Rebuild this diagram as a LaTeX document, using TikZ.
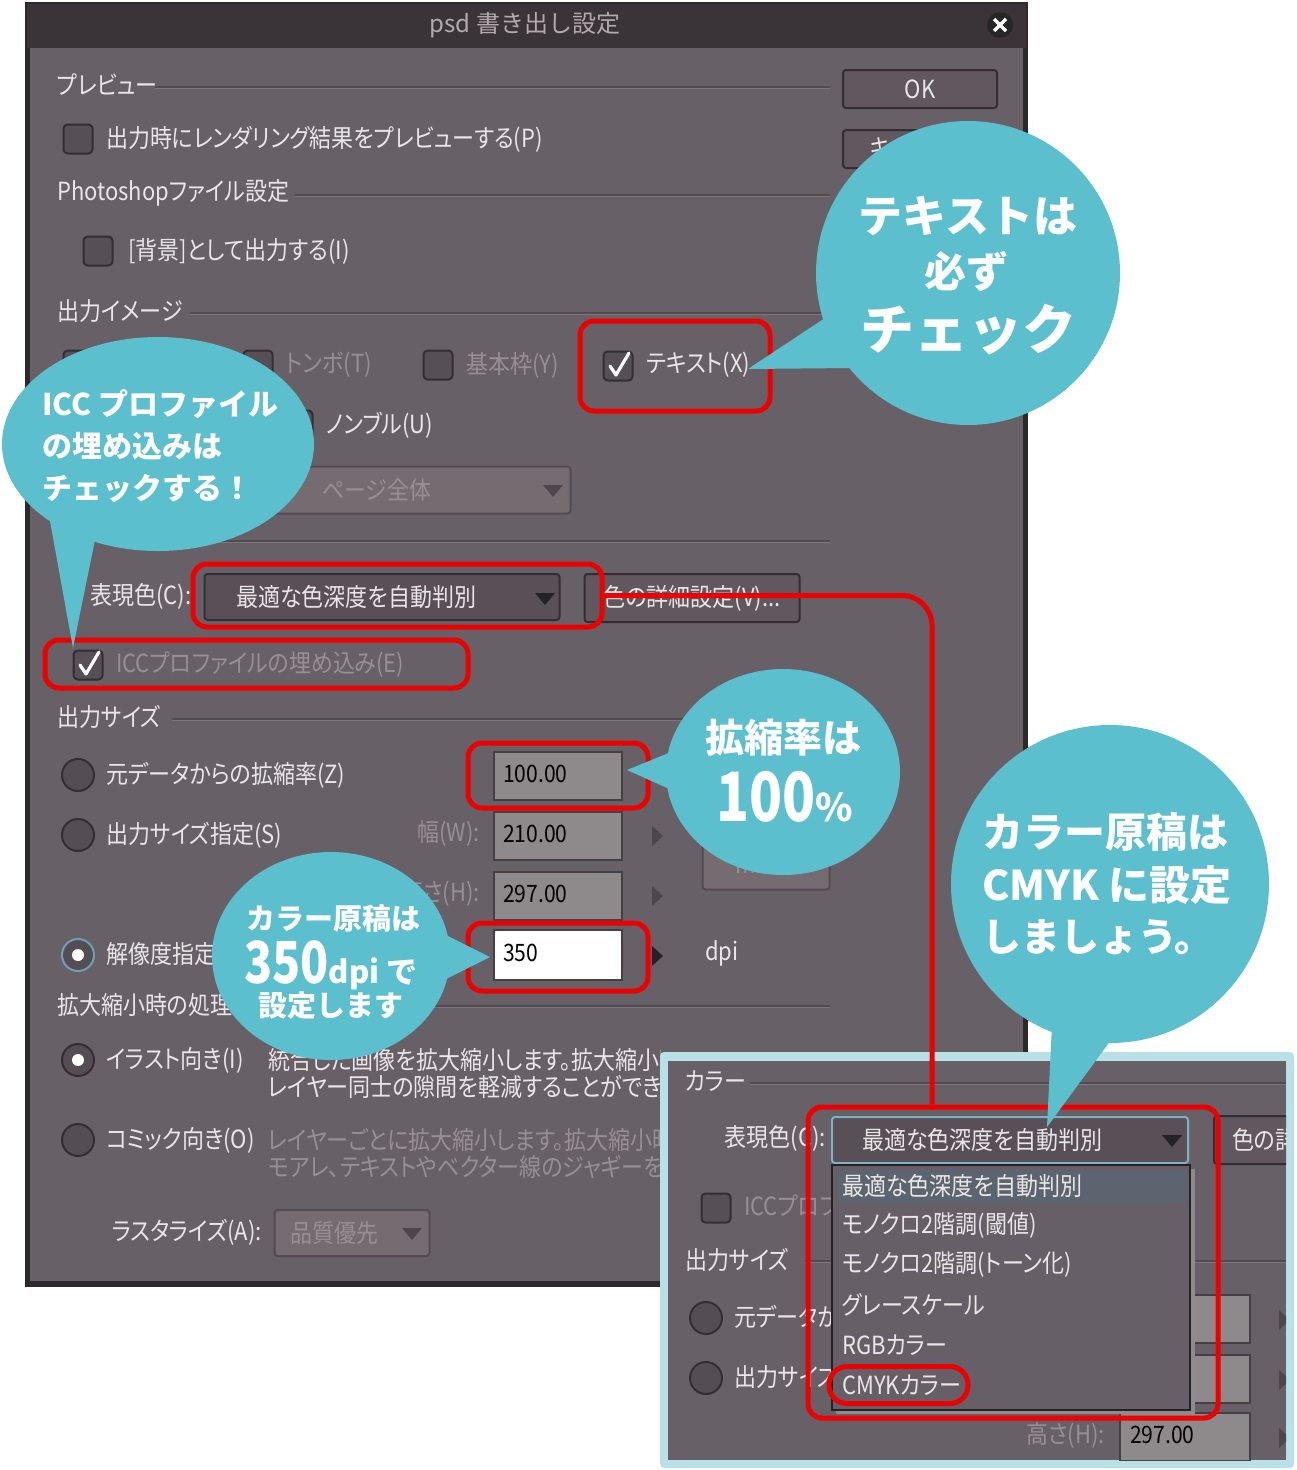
\documentclass[tikz,border=0pt]{standalone}
\usepackage{fontspec}
\newfontfamily\uif{Noto Sans CJK JP}[RawFeature=+palt, FakeStretch=0.88]
\newfontfamily\jpf{Noto Sans CJK JP}
\newfontfamily\jpfn{Noto Sans CJK JP}[FakeStretch=0.8]
\usetikzlibrary{shapes.geometric}
\definecolor{dlgbody}{RGB}{104,96,103}
\definecolor{dlgedge}{RGB}{45,40,43}
\definecolor{titlebar}{RGB}{58,51,55}
\definecolor{titletext}{RGB}{178,170,175}
\definecolor{uitext}{RGB}{234,230,232}
\definecolor{uidis}{RGB}{152,143,149}
\definecolor{sepdark}{RGB}{82,75,80}
\definecolor{seplight}{RGB}{126,118,124}
\definecolor{ckfill}{RGB}{86,79,85}
\definecolor{ckedge}{RGB}{52,46,50}
\definecolor{radiofill}{RGB}{84,77,83}
\definecolor{selring}{RGB}{110,160,178}
\definecolor{fieldgray}{RGB}{142,138,140}
\definecolor{fieldedge}{RGB}{70,64,68}
\definecolor{ddfill}{RGB}{88,80,86}
\definecolor{dddisfill}{RGB}{116,108,113}
\definecolor{ddedgedis}{RGB}{82,75,80}
\definecolor{btnfill}{RGB}{96,88,94}
\definecolor{arrowdark}{RGB}{38,33,36}
\definecolor{arrowdis}{RGB}{78,70,76}
\definecolor{hlred}{RGB}{236,0,0}
\definecolor{bubteal}{RGB}{91,191,205}
\definecolor{insetblue}{RGB}{185,224,230}
\definecolor{listhl}{RGB}{92,100,112}
\definecolor{listfill}{RGB}{103,95,103}
\definecolor{focusblue}{RGB}{125,178,196}
\newcommand\mychk[1]{\draw[chkmark] ([shift={(-8,0)}]#1.center) -- ([shift={(-2,9)}]#1.center) -- ([shift={(11,-13)}]#1.center);}
\newcommand\mydown[3]{\fill[#3] (#1-10,#2-6) -- (#1+10,#2-6) -- (#1,#2+6) -- cycle;}
\newcommand\myright[3]{\fill[#3] (#1-5,#2-10) -- (#1-5,#2+10) -- (#1+6,#2) -- cycle;}
\newcommand\mysep[3]{\draw[draw=sepdark, line width=1.5pt] (#1,#3) -- (#2,#3); \draw[draw=seplight, line width=1.5pt] (#1,#3+1.5) -- (#2,#3+1.5);}
\tikzset{
 lbl/.style={anchor=west, inner sep=0pt, text=uitext, font=\uif\fontsize{25}{28}\selectfont},
 dis/.style={lbl, text=uidis},
 val/.style={anchor=west, inner sep=0pt, text=black, font=\uif\fontsize{24}{28}\selectfont},
 ckb/.style={draw=ckedge, fill=ckfill, line width=2pt, rounded corners=4pt, minimum size=29pt, inner sep=0pt},
 chkmark/.style={draw=white, line width=3.2pt, line cap=round, line join=round},
 radiob/.style={circle, draw=ckedge, fill=radiofill, line width=2pt, minimum size=32pt, inner sep=0pt},
 radiosel/.style={radiob, draw=selring},
 fieldbox/.style={draw=fieldedge, fill=fieldgray, line width=2pt, inner sep=0pt},
 ddbox/.style={draw=ckedge, fill=ddfill, line width=2pt, rounded corners=3pt, inner sep=0pt},
 dddisbox/.style={draw=ddedgedis, fill=dddisfill, line width=2pt, rounded corners=3pt, inner sep=0pt},
 btnbox/.style={draw=ckedge, fill=btnfill, line width=2pt, rounded corners=3pt, inner sep=0pt, text=uitext, font=\uif\fontsize{25}{28}\selectfont},
 redbox/.style={draw=hlred, line width=5pt, rounded corners=14pt, inner sep=0pt},
 redline/.style={draw=hlred, line width=5pt},
 bub/.style={ellipse, fill=bubteal, inner sep=0pt},
 btxt/.style={text=white, inner sep=0pt},
}
\begin{document}
\begin{tikzpicture}[x=1pt,y=-1pt]
\useasboundingbox (0,0) rectangle (1296,1470);
\fill[white] (0,0) rectangle (1296,1470);
% ---------- dialog frame ----------
\fill[dlgedge] (25,2) rectangle (1028,1287);
\fill[titlebar] (27,4) rectangle (1026,48);
\fill[dlgbody] (30,48) rectangle (1023,1281);
\node[inner sep=0pt, text=titletext, font=\jpf\fontsize{24}{28}\selectfont] (title) at (525,25) {psd 書き出し設定};
\node[circle, fill=black!85, minimum size=26pt, inner sep=0pt] (closeBtn) at (1000,25) {};
\draw[white, line width=3.5pt] ([shift={(-6,-6)}]closeBtn.center) -- ([shift={(6,6)}]closeBtn.center);
\draw[white, line width=3.5pt] ([shift={(-6,6)}]closeBtn.center) -- ([shift={(6,-6)}]closeBtn.center);
% ---------- preview ----------
\node[lbl] (hPrev) at (57,85) {プレビュー};
\mysep{155}{830}{87}
\node[btnbox, minimum width=154pt, minimum height=38pt] (okBtn) at (920,89) {OK};
\node[btnbox, minimum width=154pt, minimum height=38pt] (cancelBtn) at (920,149) {キャンセル};
\node[ckb] (cbPrev) at (78,139) {};
\node[lbl] (tPrev) at (106,139) {出力時にレンダリング結果をプレビューする(P)};
% ---------- photoshop ----------
\node[lbl] (hPsd) at (57,193) {Photoshopファイル設定};
\mysep{295}{830}{195}
\node[ckb] (cbBg) at (98,251) {};
\node[lbl] (tBg) at (128,251) {[背景]として出力する(I)};
% ---------- output image ----------
\node[lbl] (hOut) at (57,311) {出力イメージ};
\mysep{190}{830}{313}
\node[ckb] (cbA) at (78,365) {};
\node[ckb] (cbTombo) at (258,365) {};
\node[dis] (tTombo) at (286,365) {トンボ(T)};
\node[ckb] (cbKihon) at (438,365) {};
\node[dis] (tKihon) at (466,365) {基本枠(Y)};
\node[ckb] (cbText) at (618,366) {};
\mychk{cbText}
\node[lbl] (tText) at (646,365) {テキスト(X)};
\node[ckb] (cbNombre) at (298,425) {};
\node[lbl] (tNombre) at (326,425) {ノンブル(U)};
\node[dddisbox, minimum width=331pt, minimum height=47pt] (ddPage) at (405,490) {};
\node[dis] (tPage) at (322,490) {ページ全体};
\mydown{553}{491}{arrowdis}
% ---------- color ----------
\node[lbl] (hColor) at (57,541) {カラー};
\mysep{125}{830}{541}
\node[lbl] (tHyo) at (90,596) {表現色(C):};
\node[ddbox, minimum width=355pt, minimum height=46pt] (ddHyo) at (382,597) {};
\node[lbl] (tHyoV) at (236,597) {最適な色深度を自動判別};
\mydown{545}{599}{arrowdark}
\node[btnbox, minimum width=215pt, minimum height=48pt] (detailBtn) at (692,598) {色の詳細設定(V)...};
\node[ckb] (cbIcc) at (88,665) {};
\mychk{cbIcc}
\node[dis] (tIcc) at (116,665) {ICCプロファイルの埋め込み(E)};
% ---------- output size ----------
\node[lbl] (hSize) at (57,717) {出力サイズ};
\mysep{172}{830}{719}
\node[radiob] (rbScale) at (78,775) {};
\node[lbl] (tScale) at (106,775) {元データからの拡縮率(Z)};
\node[fieldbox, minimum width=128pt, minimum height=48pt] (fScale) at (558,776) {};
\node[val] (vScale) at (503,774) {100.00};
\node[radiob] (rbSize) at (78,835) {};
\node[lbl] (tSize) at (106,835) {出力サイズ指定(S)};
\node[dis, anchor=east] (tW) at (480,833) {幅(W):};
\node[fieldbox, minimum width=128pt, minimum height=48pt] (fW) at (558,836) {};
\node[val] (vW) at (503,834) {210.00};
\myright{657}{836}{arrowdis}
\node[dis, anchor=east] (tH) at (480,893) {高さ(H):};
\node[fieldbox, minimum width=128pt, minimum height=48pt] (fH) at (558,896) {};
\node[val] (vH) at (503,894) {297.00};
\myright{657}{896}{arrowdis}
\node[dddisbox, minimum width=127pt, minimum height=45pt] (ddUnit) at (766,867) {};
\node[dis] (tUnit) at (735,867) {mm};
\node[radiosel] (rbRes) at (78,955) {};
\fill[white] (rbRes.center) circle [radius=6pt];
\node[lbl] (tRes) at (106,955) {解像度指定(R):};
\node[fieldbox, fill=white, minimum width=128pt, minimum height=50pt] (fRes) at (558,955) {};
\node[val] (vRes) at (503,953) {350};
\myright{657}{956}{arrowdark}
\node[lbl] (tDpi) at (705,953) {dpi};
% ---------- scaling ----------
\node[lbl] (hScl) at (57,1005) {拡大縮小時の処理};
\mysep{245}{830}{1006}
\node[radiob] (rbIllust) at (78,1060) {};
\fill[white] (rbIllust.center) circle [radius=6pt];
\node[lbl] (tIllust) at (106,1060) {イラスト向き(I)};
\node[radiob] (rbComic) at (78,1140) {};
\node[lbl] (tComic) at (106,1140) {コミック向き(O)};
\begin{scope}
\clip (30,1030) rectangle (660,1200);
\node[lbl] (dIllust1) at (268,1060) {統合した画像を拡大縮小します。拡大縮小時に};
\node[lbl] (dIllust2) at (268,1087) {レイヤー同士の隙間を軽減することができます。};
\node[dis] (dComic1) at (268,1140) {レイヤーごとに拡大縮小します。拡大縮小時の};
\node[dis] (dComic2) at (268,1167) {モアレ、テキストやベクター線のジャギーを抑えます。};
\end{scope}
\node[lbl, anchor=east] (tRaster) at (262,1232) {ラスタライズ(A):};
\node[dddisbox, minimum width=155pt, minimum height=46pt] (ddRaster) at (352,1233) {};
\node[dis] (vRaster) at (290,1233) {品質優先};
\mydown{412}{1234}{arrowdis}
% ---------- red highlight boxes ----------
\node[redbox, minimum width=190pt, minimum height=90pt] (boxText) at (675,366) {};
\node[redbox, minimum width=409pt, minimum height=63pt] (boxHyo) at (397.5,595.5) {};
\node[redbox, minimum width=423pt, minimum height=48pt] (boxIcc) at (256.5,664) {};
\node[redbox, minimum width=180pt, minimum height=65pt] (boxScale) at (558,775.5) {};
\node[redbox, minimum width=180pt, minimum height=68pt] (boxRes) at (558,957) {};
% ---------- inset panel ----------
\fill[insetblue, rounded corners=4pt] (660,1052) rectangle (1294,1468);
\fill[dlgbody] (668,1061) rectangle (1286,1460);
\begin{scope}
\clip (668,1061) rectangle (1286,1460);
\node[lbl] (hColor2) at (685,1081) {カラー};
\mysep{750}{1286}{1083}
\node[lbl, anchor=east] (tHyo2) at (826,1138) {表現色(C):};
\node[btnbox, minimum width=90pt, minimum height=48pt, anchor=west] (detailBtn2) at (1213,1140) {};
\node[lbl] (tDetail2) at (1232,1140) {色の詳細設定};
\node[ckb] (cbIcc2) at (716,1208) {};
\node[lbl] (hSize2) at (685,1260) {出力サイズ};
\mysep{805}{1286}{1261}
\node[radiob] (rbScale2) at (706,1318) {};
\node[radiob] (rbSize2) at (706,1378) {};
\begin{scope}
\clip (668,1180) rectangle (832,1410);
\node[dis] (tIcc2) at (744,1208) {ICCプロファイルの埋め込み(E)};
\node[lbl] (tScale2) at (734,1318) {元データからの拡縮率(Z)};
\node[lbl] (tSize2) at (734,1378) {出力サイズ指定(S)};
\end{scope}
\node[fieldbox, minimum width=130pt, minimum height=48pt] (fScale2) at (1185,1319) {};
\node[fieldbox, minimum width=130pt, minimum height=48pt] (fW2) at (1185,1379) {};
\node[fieldbox, minimum width=130pt, minimum height=48pt] (fH2) at (1185,1437) {};
\node[val] (vH2) at (1130,1435) {297.00};
\node[dis, anchor=east] (tH2) at (1105,1435) {高さ(H):};
\myright{1284}{1320}{arrowdis}
\myright{1284}{1380}{arrowdis}
\myright{1284}{1438}{arrowdis}
\node[ddbox, draw=focusblue, minimum width=356pt, minimum height=46pt] (ddHyo2) at (1010,1140) {};
\node[lbl] (tHyoV2) at (862,1140) {最適な色深度を自動判別};
\mydown{1172}{1141}{arrowdark}
\fill[black!45] (836,1169) rectangle (1195,1414);
\node[draw=arrowdark, fill=listfill, line width=2pt, inner sep=0pt, minimum width=358pt, minimum height=245pt] (ddList) at (1011,1287.5) {};
\fill[listhl, rounded corners=2pt] (838,1170) rectangle (1186,1203);
\node[lbl] (item1) at (842,1186) {最適な色深度を自動判別};
\node[lbl] (item2) at (842,1225) {モノクロ2階調(閾値)};
\node[lbl] (item3) at (842,1265) {モノクロ2階調(トーン化)};
\node[lbl] (item4) at (842,1305) {グレースケール};
\node[lbl] (item5) at (842,1345) {RGBカラー};
\node[lbl] (item6) at (842,1385) {CMYKカラー};
\end{scope}
\node[redbox, minimum width=410pt, minimum height=311pt] (boxList) at (1013,1262.5) {};
\node[redbox, rounded corners=18pt, minimum width=139pt, minimum height=37pt] (boxCmyk) at (898.5,1385) {};
% ---------- red connector ----------
\coordinate (joinPt) at (boxList.north -| 932,0);
\draw[redline, rounded corners=30pt] (boxHyo.east) -| (joinPt);
% ---------- bubbles ----------
\node[bub, minimum width=304pt, minimum height=304pt] (bubText) at (968,273) {};
\fill[bubteal] (828,316) -- (852,368) -- (748,369) -- cycle;
\node[btxt, font=\jpf\bfseries\fontsize{44}{48}\selectfont] (bt1) at (968,216) {テキストは};
\node[btxt, font=\jpf\bfseries\fontsize{42}{46}\selectfont] (bt2) at (966,272) {必ず};
\node[btxt, font=\jpf\bfseries\fontsize{54}{58}\selectfont] (bt3) at (968,330) {チェック};
\node[bub, minimum width=312pt, minimum height=214pt] (bubIcc) at (158,444) {};
\fill[bubteal] (48,510) -- (95,540) -- (73,648) -- cycle;
\node[btxt, anchor=west, font=\jpf\bfseries\fontsize{30}{34}\selectfont] (bi1) at (42,404) {ICC プロファイル};
\node[btxt, anchor=west, font=\jpf\bfseries\fontsize{30}{34}\selectfont] (bi2) at (42,446) {の埋め込みは};
\node[btxt, anchor=west, font=\jpf\bfseries\fontsize{30}{34}\selectfont] (bi3) at (42,488) {チェックする！};
\node[bub, minimum width=234pt, minimum height=206pt] (bubPct) at (783,772) {};
\fill[bubteal] (676,750) -- (676,792) -- (627,770) -- cycle;
\node[btxt, font=\jpf\bfseries\fontsize{39}{42}\selectfont] (bp1) at (783,738) {拡縮率は};
\node[btxt] (bp2) at (785,797) {\jpfn\bfseries\fontsize{68}{70}\selectfont 100\jpf\bfseries\fontsize{38}{40}\selectfont\%};
\node[bub, minimum width=238pt, minimum height=208pt] (bubDpi) at (331,956) {};
\fill[bubteal] (440,932) -- (440,982) -- (490,957) -- cycle;
\node[btxt, font=\jpf\bfseries\fontsize{29}{32}\selectfont] (bd1) at (333,918) {カラー原稿は};
\node[btxt] (bd2) at (331,965) {\jpfn\bfseries\fontsize{58}{60}\selectfont 350\jpf\bfseries\fontsize{31}{34}\selectfont dpi で};
\node[btxt, font=\jpf\bfseries\fontsize{29}{32}\selectfont] (bd3) at (331,1006) {設定します};
\node[bub, minimum width=318pt, minimum height=318pt] (bubCmyk) at (1110,884) {};
\fill[bubteal] (1052,1025) -- (1122,1025) -- (1047,1127) -- cycle;
\node[btxt, anchor=west, font=\jpf\bfseries\fontsize{41}{44}\selectfont] (bc1) at (982,832) {カラー原稿は};
\node[btxt, anchor=west, font=\jpf\bfseries\fontsize{41}{44}\selectfont] (bc2) at (982,885) {CMYK に設定};
\node[btxt, anchor=west, font=\jpf\bfseries\fontsize{39}{44}\selectfont] (bc3) at (982,937) {しましょう。};
\end{tikzpicture}
\end{document}
